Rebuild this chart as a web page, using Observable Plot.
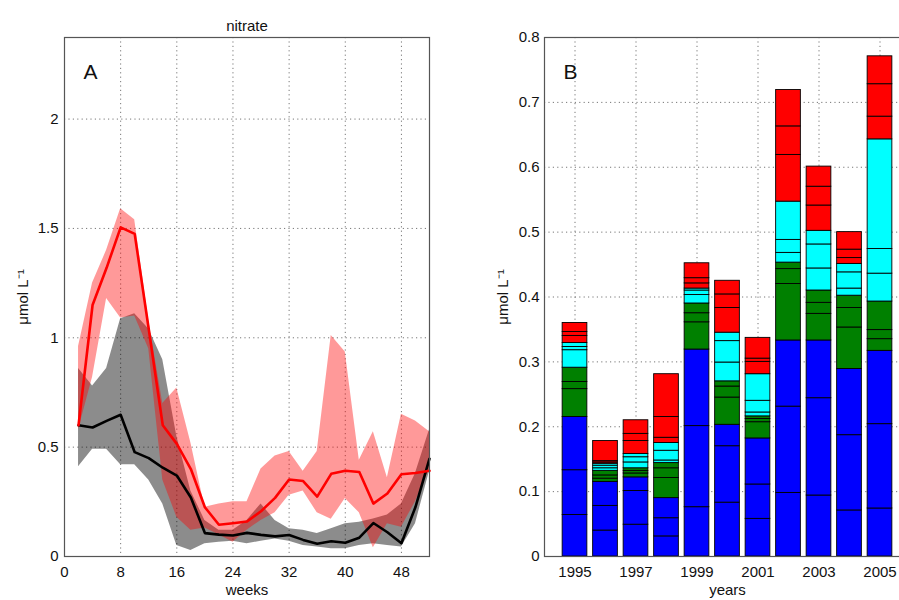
<!DOCTYPE html>
<html><head><meta charset="utf-8">
<script src="https://cdn.jsdelivr.net/npm/d3@7"></script>
<script src="https://cdn.jsdelivr.net/npm/@observablehq/plot@0.6"></script>
<style>
html,body{margin:0;padding:0;background:#fff;overflow:hidden;}
#wrap{position:relative;width:899px;height:600px;overflow:hidden;background:#fff;}
#a{position:absolute;left:0;top:0;width:450px;height:600px;}
#b{position:absolute;left:480px;top:0;width:440px;height:600px;}
#wrap svg{max-width:none !important;}
</style></head>
<body><div id="wrap"><div id="a"></div><div id="b"></div></div>
<script>
// ---- Panel A: weekly nitrate (µmol L-1) ----
const weeks = [2,4,6,8,10,12,14,16,18,20,22,24,26,28,30,32,34,36,38,40,42,44,46,48,50,52];
const redMean  = [0.60,1.15,1.32,1.505,1.475,1.04,0.60,0.515,0.40,0.225,0.145,0.152,0.16,0.207,0.268,0.352,0.345,0.274,0.378,0.392,0.386,0.242,0.288,0.376,0.382,0.392];
const redUpper = [0.96,1.25,1.40,1.59,1.54,1.08,0.70,0.77,0.52,0.225,0.24,0.25,0.25,0.40,0.46,0.48,0.39,0.48,1.01,0.935,0.44,0.57,0.36,0.65,0.62,0.57];
const redLower = [0.58,0.82,1.18,1.09,1.10,0.95,0.35,0.18,0.12,0.13,0.10,0.065,0.12,0.165,0.20,0.28,0.30,0.20,0.17,0.265,0.20,0.04,0.15,0.134,0.25,0.40];
const blackMean  = [0.60,0.59,0.62,0.648,0.477,0.45,0.406,0.37,0.27,0.107,0.10,0.096,0.108,0.099,0.092,0.098,0.076,0.058,0.07,0.063,0.086,0.153,0.111,0.061,0.226,0.447];
const grayUpper  = [0.86,0.78,0.86,1.087,1.11,1.04,0.90,0.55,0.30,0.165,0.12,0.12,0.165,0.24,0.165,0.127,0.12,0.105,0.127,0.15,0.157,0.172,0.19,0.24,0.38,0.58];
const grayLower  = [0.41,0.49,0.49,0.42,0.42,0.35,0.24,0.05,0.027,0.058,0.065,0.07,0.058,0.07,0.08,0.07,0.05,0.043,0.035,0.035,0.05,0.058,0.05,0.043,0.15,0.39];
const weekTicks = [0,8,16,24,32,40,48];
const concTicksA = [0,0.5,1,1.5,2];

// ---- Panel B: yearly stacked monthly contributions (cumulative tops, bottom to top) ----
const years = [1995,1996,1997,1998,1999,2000,2001,2002,2003,2004,2005];
const seasons = ["winter","spring","summer","autumn"];
const seasonColors = ["#0000ff","#008000","#00ffff","#ff0000"];
const monthTops = [
  [0.064,0.133,0.215, 0.258,0.269,0.291, 0.318,0.323,0.329, 0.340,0.346,0.360],
  [0.040,0.078,0.115, 0.120,0.125,0.132, 0.136,0.140,0.143, 0.145,0.147,0.178],
  [0.049,0.101,0.122, 0.128,0.132,0.136, 0.145,0.153,0.158, 0.178,0.189,0.210],
  [0.031,0.059,0.090, 0.121,0.136,0.144, 0.148,0.163,0.175, 0.183,0.215,0.281],
  [0.076,0.201,0.319, 0.361,0.375,0.390, 0.403,0.410,0.413, 0.421,0.429,0.452],
  [0.083,0.170,0.203, 0.245,0.262,0.270, 0.299,0.332,0.345, 0.383,0.404,0.425],
  [0.058,0.111,0.182, 0.207,0.212,0.216, 0.222,0.240,0.281, 0.300,0.305,0.337],
  [0.098,0.231,0.333, 0.420,0.443,0.453, 0.468,0.488,0.547, 0.619,0.663,0.719],
  [0.094,0.244,0.333, 0.374,0.391,0.410, 0.444,0.481,0.502, 0.541,0.570,0.601],
  [0.071,0.187,0.289, 0.353,0.383,0.402, 0.413,0.438,0.451, 0.460,0.473,0.500],
  [0.074,0.204,0.317, 0.335,0.349,0.393, 0.436,0.474,0.643, 0.678,0.728,0.771]
];
const yearTicks = [1995,1997,1999,2001,2003,2005];
const concTicksB = [0,0.1,0.2,0.3,0.4,0.5,0.6,0.7,0.8];

const FONT = "'Liberation Sans', Arial, Helvetica, sans-serif";
const gridStyle = {stroke: "#777", strokeDasharray: "1.2,3.2", strokeWidth: 1};
const unitLabel = "\u03bcmol L\u207b\u00b9";

// table for panel A
const weekly = weeks.map((w, i) => ({
  week: w, red: redMean[i], redHi: redUpper[i], redLo: redLower[i],
  black: blackMean[i], grayHi: grayUpper[i], grayLo: grayLower[i]
}));

const plotA = Plot.plot({
  width: 450, height: 600,
  marginLeft: 64, marginRight: 21, marginTop: 37, marginBottom: 44,
  style: {fontFamily: FONT, fontSize: "15px", color: "#111", background: "#fff"},
  x: {domain: [0, 52], ticks: weekTicks, tickSize: 0, tickPadding: 10, label: null, tickFormat: d => String(d)},
  y: {domain: [0, 2.373], ticks: concTicksA, tickSize: 0, tickPadding: 6, label: null, tickFormat: d => String(d)},
  marks: [
    Plot.ruleX(weekTicks.filter(d => d > 0), gridStyle),
    Plot.ruleY(concTicksA.filter(d => d > 0), gridStyle),
    Plot.areaY(weekly, {x: "week", y1: "grayLo", y2: "grayHi", fill: "#000", fillOpacity: 0.45}),
    Plot.areaY(weekly, {x: "week", y1: "redLo", y2: "redHi", fill: "#ff0000", fillOpacity: 0.4}),
    Plot.line(weekly, {x: "week", y: "black", stroke: "#000", strokeWidth: 2.6}),
    Plot.line(weekly, {x: "week", y: "red", stroke: "#ff0000", strokeWidth: 2.6}),
    Plot.frame({stroke: "#555", strokeWidth: 1.2}),
    Plot.text(["nitrate"], {text: d => d, frameAnchor: "top", dy: -17, fontSize: 15}),
    Plot.text(["weeks"], {text: d => d, frameAnchor: "bottom", dy: 38, fontSize: 15}),
    Plot.text(["A"], {text: d => d, frameAnchor: "top-left", textAnchor: "middle", dx: 26, dy: 27, fontSize: 21}),
    Plot.text([unitLabel], {text: d => d, frameAnchor: "left", textAnchor: "middle", rotate: -90, dx: -41, fontSize: 15})
  ]
});
document.getElementById("a").appendChild(plotA);

// table for panel B
const segments = [];
years.forEach((yr, j) => {
  monthTops[j].forEach((top, k) => {
    segments.push({
      year: yr,
      x1: yr - 0.405, x2: yr + 0.405,
      y1: k === 0 ? 0 : monthTops[j][k - 1],
      y2: top,
      season: seasons[Math.floor(k / 3)]
    });
  });
});

const plotB = Plot.plot({
  width: 440, height: 600,
  marginLeft: 64, marginRight: 10, marginTop: 37, marginBottom: 44,
  style: {fontFamily: FONT, fontSize: "15px", color: "#111", background: "#fff"},
  x: {domain: [1994, 2006], ticks: yearTicks, tickSize: 0, tickPadding: 10, label: null, tickFormat: d => String(d)},
  y: {domain: [0, 0.8], ticks: concTicksB, tickSize: 0, tickPadding: 5, label: null, tickFormat: d => d === 0 ? "0" : d.toFixed(1)},
  color: {domain: seasons, range: seasonColors},
  marks: [
    Plot.ruleX(yearTicks, gridStyle),
    Plot.ruleY(concTicksB.filter(d => d > 0), gridStyle),
    Plot.rect(segments, {x1: "x1", x2: "x2", y1: "y1", y2: "y2", fill: "season", stroke: "#000", strokeWidth: 0.9}),
    Plot.frame({stroke: "#555", strokeWidth: 1.2}),
    Plot.text(["years"], {text: d => d, frameAnchor: "bottom", dy: 38, fontSize: 15}),
    Plot.text(["B"], {text: d => d, frameAnchor: "top-left", textAnchor: "middle", dx: 26, dy: 27, fontSize: 21}),
    Plot.text([unitLabel], {text: d => d, frameAnchor: "left", textAnchor: "middle", rotate: -90, dx: -41, fontSize: 15})
  ]
});
document.getElementById("b").appendChild(plotB);
</script>
</body></html>
